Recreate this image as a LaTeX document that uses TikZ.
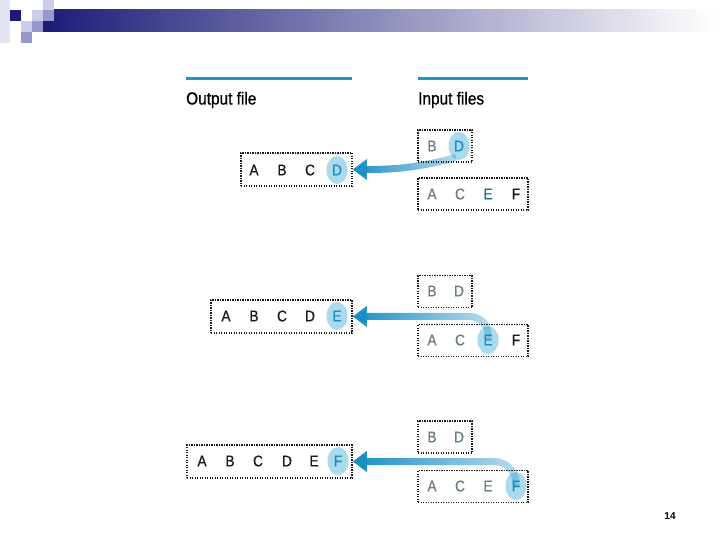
\documentclass[tikz,border=0pt]{standalone}
\usepackage{fontspec}
\setmainfont{Liberation Sans}[FakeStretch=0.88, FakeBold=0.8]
\newfontfamily\pagefont{Liberation Sans}
\usepackage{tikz}
\usetikzlibrary{arrows.meta, backgrounds, fadings}

\definecolor{navy}{RGB}{28,28,120}
\definecolor{barmid}{RGB}{150,150,190}
\definecolor{sqlight}{RGB}{204,204,232}
\definecolor{sqmid}{RGB}{152,152,204}
\definecolor{hdrlight}{RGB}{228,228,243}
\definecolor{headblue}{RGB}{30,150,205}
\definecolor{hilite}{RGB}{170,218,238}
\definecolor{moveblue}{RGB}{20,140,195}
\definecolor{ltrblack}{RGB}{25,25,25}
\definecolor{ltrgray}{RGB}{105,125,135}
\definecolor{ltrblue}{RGB}{25,140,190}
\definecolor{ltrteal}{RGB}{30,100,130}

\tikzfading[name=moverfade, left color=transparent!0, right color=transparent!70]

\tikzset{
  headline/.style={draw=headblue, line width=3pt},
  head/.style={anchor=base west, inner sep=0pt, font=\fontsize{17.5}{20}\selectfont},
  letter/.style={inner sep=0pt, font=\fontsize{15.5}{18}\selectfont},
  filebox/.style={draw=ltrblack, line width=1.5pt, dash pattern=on 1.4pt off 1.1pt, inner sep=0pt},
  mover/.style={draw=moveblue, line width=7pt, path fading=moverfade,
    -{Triangle[length=14pt, width=20pt]}},
  pagenum/.style={inner sep=0pt, font=\pagefont\bfseries\fontsize{10}{12}\selectfont}
}

\begin{document}
\begin{tikzpicture}[x=1pt, y=-1pt]
    \useasboundingbox (0,0) rectangle (720,540);

    % Slide header
    \shade[left color=navy, middle color=barmid, right color=white] (43,10) rectangle (715,32);
    \fill[hdrlight] (0,0) rectangle (10,43);
    \foreach \x/\y/\c in {10/10/navy, 32/10/sqlight, 43/0/sqlight, 43/10/sqmid, 21/21/sqlight, 32/21/sqmid, 21/32/sqmid}
      \fill[\c] (\x,\y) rectangle ++(11,11);

    % Column heads
    \draw[headline] (186,79) -- (352,79);
    \draw[headline] (418,79) -- (528,79);
    \node[head] (outhead) at (186,104.5) {Output file};
    \node[head] (inhead) at (418,104.5) {Input files};

    % File boxes
    \node[filebox, minimum width=111, minimum height=33] (o1box) at (296.5,169.5) {};
    \node[filebox, minimum width=141, minimum height=33] (o2box) at (281.5,316.5) {};
    \node[filebox, minimum width=165, minimum height=33] (o3box) at (269.5,461.5) {};
    \foreach \r/\ya/\yb in {1/146/194, 2/291.5/340.5, 3/437/486.5} {
      \node[filebox, minimum width=54, minimum height=32] (i\r box) at (445,\ya) {};
      \node[filebox, minimum width=110, minimum height=32] (j\r box) at (473,\yb) {};
    }

    % Row 1
    \foreach \l/\x/\c in {A/254/ltrblack, B/282/ltrblack, C/310/ltrblack, D/337/ltrblue}
      \node[letter, text=\c] (o1\l) at (\x,170) {\l};
    \foreach \l/\x/\c in {B/432/ltrgray, D/459/ltrblue}
      \node[letter, text=\c] (i1\l) at (\x,146) {\l};
    \foreach \l/\x/\c in {A/432/ltrgray, C/460/ltrgray, E/488/ltrteal, F/516/ltrblack}
      \node[letter, text=\c] (j1\l) at (\x,194) {\l};

    % Row 2
    \foreach \l/\x/\c in {A/226/ltrblack, B/254/ltrblack, C/282/ltrblack, D/310/ltrblack, E/337/ltrblue}
      \node[letter, text=\c] (o2\l) at (\x,316) {\l};
    \foreach \l/\x/\c in {B/432/ltrgray, D/459/ltrgray}
      \node[letter, text=\c] (i2\l) at (\x,291) {\l};
    \foreach \l/\x/\c in {A/432/ltrgray, C/460/ltrgray, E/488/ltrblue, F/516/ltrblack}
      \node[letter, text=\c] (j2\l) at (\x,340) {\l};

    % Row 3
    \foreach \l/\x/\c in {A/202/ltrblack, B/230/ltrblack, C/258/ltrblack, D/287/ltrblack, E/314/ltrblack, F/338/ltrblue}
      \node[letter, text=\c] (o3\l) at (\x,461) {\l};
    \foreach \l/\x/\c in {B/432/ltrgray, D/459/ltrgray}
      \node[letter, text=\c] (i3\l) at (\x,437) {\l};
    \foreach \l/\x/\c in {A/432/ltrgray, C/460/ltrgray, E/488/ltrgray, F/516/ltrblue}
      \node[letter, text=\c] (j3\l) at (\x,486) {\l};

    % Highlights and moves
    \begin{pgfonlayer}{background}
      \foreach \n in {o1D, i1D, o2E, j2E, o3F, j3F}
        \fill[hilite] (\n) ellipse [x radius=10.5, y radius=14];
      \draw[mover] ([xshift=-3pt, yshift=-6pt]i1D.south) to[out=195, in=0] (o1box.east);
      \draw[mover, rounded corners=18pt] (j2E.center) |- (o2box.east);
      \draw[mover, rounded corners=22pt] (j3F.center) |- (o3box.east);
    \end{pgfonlayer}

    % Page number
    \node[pagenum] (pg) at (670,516) {14};
\end{tikzpicture}
\end{document}
